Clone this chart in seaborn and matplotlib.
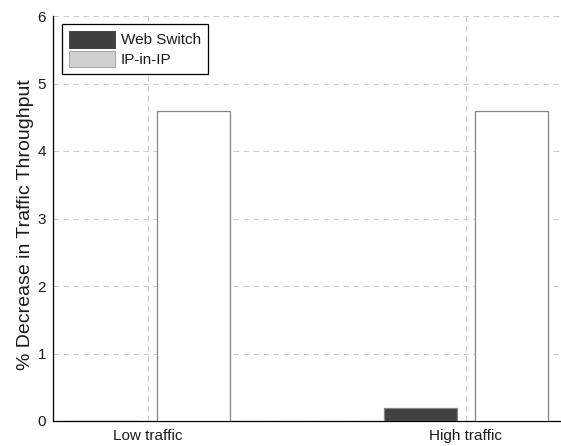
import matplotlib
matplotlib.use("Agg")
import matplotlib.pyplot as plt
from matplotlib.patches import Patch
import seaborn as sns
import pandas as pd

categories = ["Low traffic", "High traffic"]
methods = ["Web Switch", "IP-in-IP"]
web_switch = [0.0, 0.2]
ip_in_ip = [4.6, 4.59]
y_ticks = [0, 1, 2, 3, 4, 5, 6]
y_label = "% Decrease in Traffic Throughput"

rows = []
for i, c in enumerate(categories):
    rows.append({"traffic": c, "method": methods[0], "value": web_switch[i]})
    rows.append({"traffic": c, "method": methods[1], "value": ip_in_ip[i]})
df = pd.DataFrame(rows)

sns.set_theme(style="white")
plt.rcParams["font.family"] = ["Liberation Sans", "DejaVu Sans"]

W, H = 561, 446
fig = plt.figure(figsize=(W / 100, H / 100), dpi=100)
ax_left, ax_right, ax_top, ax_bottom = 53, 561, 16, 421
ax = fig.add_axes([ax_left / W, 1 - ax_bottom / H, (ax_right - ax_left) / W, (ax_bottom - ax_top) / H])

sns.barplot(data=df, x="traffic", y="value", hue="method", order=categories,
            hue_order=methods, palette=["#404040", "#ffffff"], width=0.572, gap=0.198,
            errorbar=None, edgecolor="#858585", linewidth=0.9, legend=False, ax=ax, zorder=3)

ax.set_xlim(-0.299, 1.299)
ax.set_ylim(0, 6)
ax.set_yticks(y_ticks)
ax.set_yticklabels([str(t) for t in y_ticks])
ax.set_xlabel("")
ax.set_ylabel(y_label, fontsize=14, color="#1a1a1a")
ax.yaxis.set_label_coords(-0.037, 0.486)

ax.grid(True, axis="both", linestyle=(0, (5, 4)), color="#cccccc", linewidth=0.8, zorder=0)
ax.set_axisbelow(True)

for s in ["top", "right"]:
    ax.spines[s].set_visible(False)
for s in ["left", "bottom"]:
    ax.spines[s].set_color("#000000")
    ax.spines[s].set_linewidth(0.9)

ax.tick_params(axis="both", direction="in", length=4, width=0.8, color="#000000",
               labelsize=11, labelcolor="#1a1a1a")
ax.tick_params(axis="y", pad=5)
ax.tick_params(axis="x", pad=6)

handles = [Patch(facecolor="#404040", edgecolor="#333333", linewidth=0.6),
           Patch(facecolor="#d0d0d0", edgecolor="#9a9a9a", linewidth=0.6)]
leg = ax.legend(handles, methods, loc="upper left", bbox_to_anchor=(0.0177, 0.980),
                borderaxespad=0, fontsize=11, handlelength=3.05, handleheight=1.3,
                handletextpad=0.35, borderpad=0.45, labelspacing=0.2, fancybox=False,
                framealpha=1, edgecolor="#000000")
leg.get_frame().set_linewidth(0.9)
for t in leg.get_texts():
    t.set_color("#1a1a1a")

fig.savefig("out.png", dpi=100)
